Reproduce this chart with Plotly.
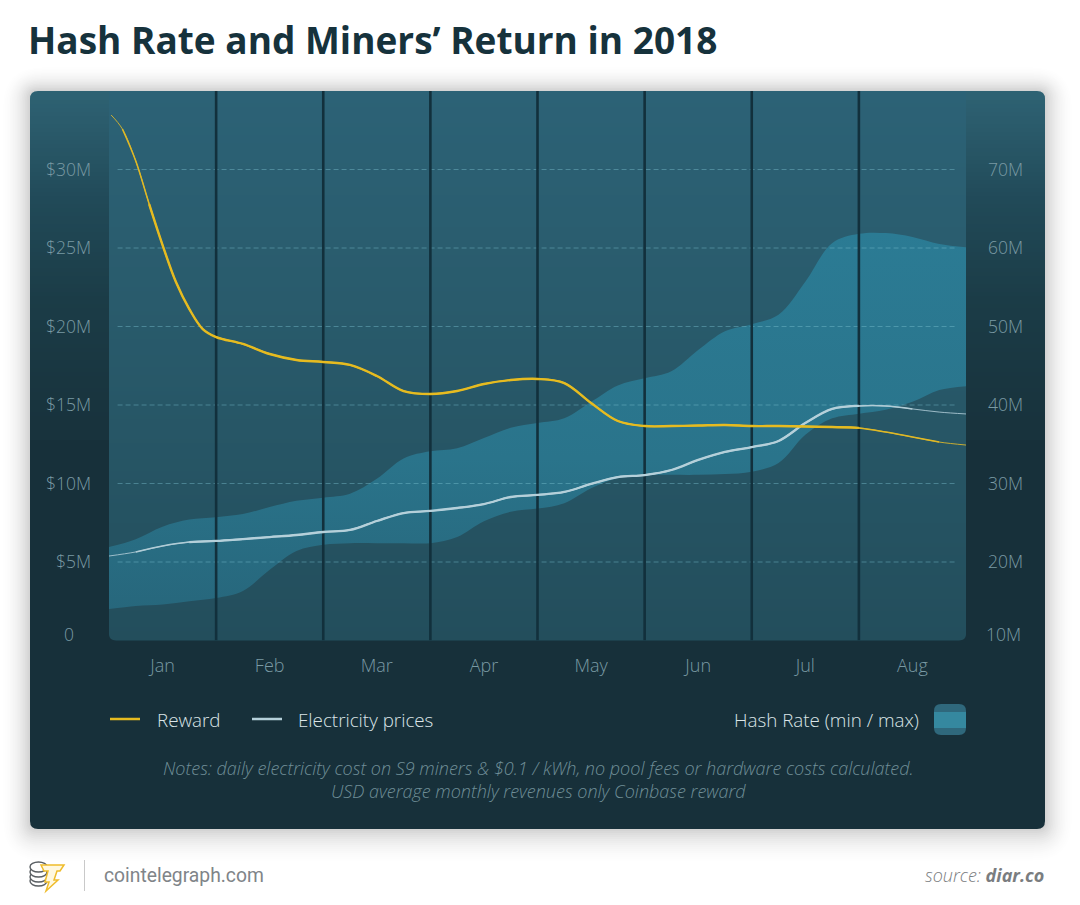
import plotly.graph_objects as go

# ---------- data ----------
months = ["Jan", "Feb", "Mar", "Apr", "May", "Jun", "Jul", "Aug"]
month_centers = [0.5, 1.5, 2.5, 3.5, 4.5, 5.5, 6.5, 7.5]
month_edges = [1, 2, 3, 4, 5, 6, 7]
x_quarter = [0, .25, .5, .75, 1, 1.25, 1.5, 1.75, 2, 2.25, 2.5, 2.75, 3, 3.25, 3.5, 3.75, 4,
             4.25, 4.5, 4.75, 5, 5.25, 5.5, 5.75, 6, 6.25, 6.5, 6.75, 7, 7.25, 7.5, 7.75, 8]
x_reward = [0.02, .125, .25, .375, .5, .625, .75, .875, 1] + x_quarter[5:]
reward = [33.47, 32.58, 30.54, 27.8, 25.19, 22.83, 21.11, 19.84, 19.33, 18.89, 18.25, 17.87, 17.74,
          17.55, 16.85, 15.89, 15.7, 15.89, 16.34, 16.59, 16.66, 16.4, 15.13, 13.98, 13.66, 13.66,
          13.69, 13.73, 13.66, 13.66, 13.63, 13.6, 13.54, 13.28, 12.96, 12.64, 12.45]
electricity = [5.38, 5.64, 6.02, 6.27, 6.34, 6.46, 6.59, 6.72, 6.91, 7.04, 7.61, 8.12, 8.25, 8.44,
               8.69, 9.14, 9.27, 9.46, 9.97, 10.41, 10.54, 10.86, 11.5, 12.01, 12.32, 12.71, 13.85,
               14.75, 14.94, 14.94, 14.75, 14.55, 14.43]
hash_max = [21.9, 22.9, 24.5, 25.4, 25.7, 26.1, 27.0, 27.8, 28.2, 28.7, 30.6, 33.2, 34.1, 34.5, 35.8,
            37.1, 37.7, 38.3, 40.4, 42.5, 43.4, 44.3, 47.0, 49.4, 50.3, 51.5, 55.7, 60.6, 61.8, 61.9,
            61.4, 60.5, 60.1]
hash_min = [14.0, 14.4, 14.6, 15.0, 15.4, 16.3, 19.0, 21.4, 22.2, 22.4, 22.4, 22.4, 22.4, 23.2, 25.2,
            26.4, 26.8, 27.5, 29.4, 30.7, 31.1, 31.1, 31.1, 31.2, 31.5, 32.6, 36.2, 38.3, 38.9, 39.4,
            40.4, 41.9, 42.4]
usd_ticks = [5, 10, 15, 20, 25, 30]
usd_labels = ["$5M", "$10M", "$15M", "$20M", "$25M", "$30M"]
hash_ticks = [20, 30, 40, 50, 60, 70]
hash_labels = ["20M", "30M", "40M", "50M", "60M", "70M"]

W, H = 1080, 905
FONT = "Open Sans"


def px(x):
    return x / W


def py(y):
    return 1 - y / H


def hexmix(stops, t):
    for (t0, c0), (t1, c1) in zip(stops, stops[1:]):
        if t <= t1:
            f = (t - t0) / (t1 - t0) if t1 > t0 else 0
            a = [int(c0[i:i + 2], 16) for i in (1, 3, 5)]
            b = [int(c1[i:i + 2], 16) for i in (1, 3, 5)]
            return "#%02x%02x%02x" % tuple(round(u + (v - u) * f) for u, v in zip(a, b))
    return stops[-1][1]


def round_path(x0, y0, x1, y1, rt, rb):
    X0, X1 = px(x0), px(x1)
    Y0, Y1 = py(y0), py(y1)
    rx_t, ry_t = rt / W, rt / H
    rx_b, ry_b = rb / W, rb / H
    return (f"M{X0 + rx_t},{Y0} L{X1 - rx_t},{Y0} Q{X1},{Y0} {X1},{Y0 - ry_t} "
            f"L{X1},{Y1 + ry_b} Q{X1},{Y1} {X1 - rx_b},{Y1} L{X0 + rx_b},{Y1} "
            f"Q{X0},{Y1} {X0},{Y1 + ry_b} L{X0},{Y0 - ry_t} Q{X0},{Y0} {X0 + rx_t},{Y0} Z")


def path_shape(path, fill, line=None, lw=0, layer="below"):
    return dict(type="path", xref="paper", yref="paper", path=path, fillcolor=fill,
                line=dict(color=line or "rgba(0,0,0,0)", width=lw), layer=layer)


def rect(x0, y0, x1, y1, fill):
    return dict(type="rect", xref="paper", yref="paper", x0=px(x0), x1=px(x1), y0=py(y0), y1=py(y1),
                fillcolor=fill, line=dict(width=0), layer="below")


shapes = []
# soft card shadow
for e in range(38, 0, -2):
    a = 0.02 * ((38 - e) / 38) ** 1.3 + 0.0005
    shapes.append(path_shape(round_path(30 - e * 0.85, 91 - e * 0.75, 1045 + e * 0.85, 829 + e, e + 8, e + 8),
                             f"rgba(0,0,0,{a:.4f})"))
# card gradient
side = [(91, "#2e6273"), (130, "#2a5a6a"), (200, "#214a58"), (300, "#1b3c47"), (420, "#18333d"), (829, "#17303a")]
shapes.append(path_shape(round_path(30, 91, 1045, 100, 8, 0), side[0][1]))
for y in range(100, 440, 4):
    shapes.append(rect(30, y, 1045, y + 4.5, hexmix(side, y + 2)))
shapes.append(path_shape(round_path(30, 440, 1045, 829, 0, 8), side[-1][1]))
# plot area gradient
plot = [(91, "#2c6276"), (300, "#295b6c"), (640, "#234e5c")]
for y in range(91, 632, 4):
    shapes.append(rect(109, y, 966, y + 4.5, hexmix(plot, y + 2)))
shapes.append(path_shape(round_path(109, 631, 966, 640.5, 0, 7), plot[-1][1]))
# legend marks
shapes.append(dict(type="line", xref="paper", yref="paper", x0=px(110), x1=px(140), y0=py(719), y1=py(719),
                   line=dict(color="#e6bb20", width=2.5)))
shapes.append(dict(type="line", xref="paper", yref="paper", x0=px(252), x1=px(282), y0=py(719), y1=py(719),
                   line=dict(color="#b5d0da", width=2.5)))
shapes.append(path_shape(round_path(934, 704, 966, 735, 7, 7), "#2f687c", layer="above"))
shapes.append(rect(934, 712, 966, 728, "#35889f") | {"layer": "above"})
# footer
shapes.append(dict(type="line", xref="paper", yref="paper", x0=px(84.5), x1=px(84.5), y0=py(860), y1=py(891),
                   line=dict(color="#c9c9c9", width=1)))
# logo: coin stack + bolt
for cy in (881, 877, 872, 867):
    shapes.append(dict(type="circle", xref="paper", yref="paper", x0=px(30), x1=px(47), y0=py(cy + 5), y1=py(cy - 5),
                       fillcolor="#ffffff", line=dict(color="#5a5f63", width=1.4)))
bolt = [(41, 865), (64, 865), (60, 871), (57, 871), (54, 880), (58, 880), (46, 891), (49, 882), (45, 882), (48, 871), (44, 871)]
shapes.append(path_shape("M" + " L".join(f"{px(a)},{py(b)}" for a, b in bolt) + " Z", "#fff8df", "#efbc2b", 1.5, "above"))

fig = go.Figure()
# hash rate band (base axis, drawn first)
fig.add_trace(go.Scatter(x=x_quarter, y=hash_min, yaxis="y2", mode="lines", name="Hash min",
                         line=dict(width=0, shape="spline", smoothing=1), showlegend=False, hoverinfo="skip"))
fig.add_trace(go.Scatter(x=x_quarter, y=hash_max, yaxis="y2", mode="lines", name="Hash Rate (min / max)",
                         line=dict(width=0, shape="spline", smoothing=1), fill="tonexty",
                         fillgradient=dict(type="vertical", start=62, stop=14,
                                           colorscale=[[0, "#2b7b94"], [0.6, "#2a748b"], [1, "#27677c"]]),
                         showlegend=False))
# horizontal dashed guides
for v in usd_ticks:
    fig.add_trace(go.Scatter(x=[0.08, 7.92], y=[v, v], yaxis="y", mode="lines", showlegend=False, hoverinfo="skip",
                             line=dict(color="rgba(125,195,210,0.42)", width=1.2, dash="5px,3px")))
# month separators
for m in month_edges:
    fig.add_trace(go.Scatter(x=[m, m], y=[0, 35], yaxis="y", mode="lines", showlegend=False, hoverinfo="skip",
                             line=dict(color="#12303c", width=2.6)))
# lines: tapered by layering progressively thicker spans over a thin full-length line
LINE = dict(shape="spline", smoothing=1)
for a, b, w, c, n in [(None, None, 0.9, "#a9c6d1", None), (1, 31, 1.6, "#b0ccd6", None),
                      (3, 29, 2.3, "#b5d0da", "Electricity prices")]:
    fig.add_trace(go.Scatter(x=x_quarter[a:b], y=electricity[a:b], yaxis="y", mode="lines", name=n, showlegend=False,
                             line=dict(color=c, width=w, **LINE)))
for a, b, w, c, n in [(None, None, 0.9, "#d9b62c", None), (1, 36, 1.5, "#dfb826", None),
                      (3, 33, 2.4, "#e6bb20", "Reward")]:
    fig.add_trace(go.Scatter(x=x_reward[a:b], y=reward[a:b], yaxis="y", mode="lines", name=n, showlegend=False,
                             line=dict(color=c, width=w, **LINE)))

TICK = dict(family=FONT, size=17.5, color="#7a9aa4", weight=300)
ann = []


def text(x, y, s, size=18.8, color="#dbe5e8", anchor="left", style="normal", weight=300, family=FONT):
    ann.append(dict(xref="paper", yref="paper", x=px(x), y=py(y), text=s, showarrow=False, xanchor=anchor,
                    yanchor="middle", align="center" if anchor == "center" else anchor,
                    font=dict(family=family, size=size, color=color, style=style, weight=weight)))


text(69, 634, "0", size=17.5, color="#7a9aa4", anchor="center")
text(1023, 634, "10M", size=17.5, color="#7a9aa4", anchor="right")
text(155, 720, "Reward")
text(296, 720, "Electricity prices")
text(921, 720, "Hash Rate (min / max)", anchor="right")
text(538, 779, "Notes: daily electricity cost on S9 miners &amp; $0.1 / kWh, no pool fees or hardware costs calculated.<br>"
     "USD average monthly revenues only Coinbase reward", size=18, color="#6f8e97", anchor="center", style="italic")
text(102, 875, "cointelegraph.com", size=19.3, color="#808488", family="Roboto", weight=400)
text(1046, 875, "source: <b>diar.co</b>", size=18, color="#7a7d80", anchor="right", style="italic")

fig.update_layout(
    width=W, height=H, autosize=False, margin=dict(l=0, r=0, t=0, b=0, pad=0),
    paper_bgcolor="#ffffff", plot_bgcolor="rgba(0,0,0,0)", showlegend=False,
    title=dict(text="Hash Rate and Miners’ Return in 2018", x=28 / W, xanchor="left", y=1 - 41 / H, yanchor="middle",
               font=dict(family=FONT, size=37, color="#16323c", weight=700)),
    xaxis=dict(domain=[px(109), px(966)], range=[0, 8], tickvals=month_centers, ticktext=months, showgrid=False,
               zeroline=False, showline=False, ticks="", tickfont=TICK | {"size": 18}, ticklabelstandoff=12),
    yaxis=dict(domain=[py(640.5), py(91)], range=[0, 35], tickvals=usd_ticks, ticktext=usd_labels, showgrid=False,
               zeroline=False, showline=False, ticks="", tickfont=TICK, ticklabelstandoff=17, overlaying="y2"),
    yaxis2=dict(domain=[py(640.5), py(91)], range=[10, 80], side="right", tickvals=hash_ticks,
                ticktext=hash_labels, showgrid=False, zeroline=False, showline=False, ticks="", tickfont=TICK,
                ticklabelstandoff=21),
    shapes=shapes, annotations=ann, hovermode=False,
)
fig.write_html("out.html", config={"displayModeBar": False}, post_script="document.body.style.margin='0';")
